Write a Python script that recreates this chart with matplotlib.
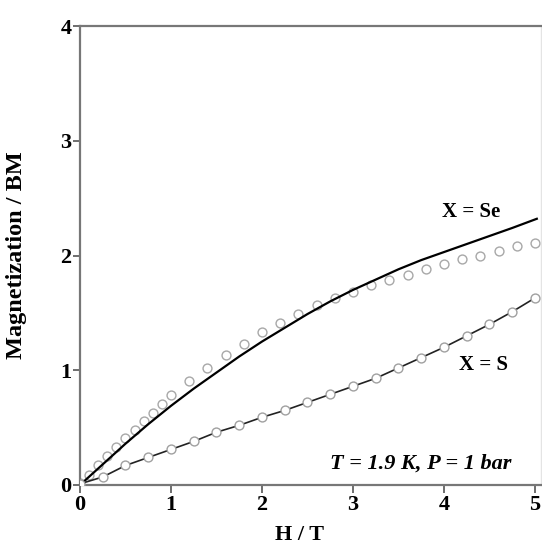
import numpy as np
import matplotlib.pyplot as plt
plt.rcParams["font.family"] = ["Liberation Serif", "DejaVu Serif"]
plt.rcParams["font.weight"] = "bold"

# X = Se : measured points
h_se = [0.0, 0.1, 0.2, 0.3, 0.4, 0.5, 0.6, 0.7, 0.8, 0.9, 1.0,
        1.2, 1.4, 1.6, 1.8, 2.0, 2.2, 2.4, 2.6, 2.8, 3.0,
        3.2, 3.4, 3.6, 3.8, 4.0, 4.2, 4.4, 4.6, 4.8, 5.0]
m_se = [0.02, 0.09, 0.17, 0.25, 0.33, 0.41, 0.48, 0.56, 0.63, 0.71, 0.78,
        0.91, 1.02, 1.13, 1.23, 1.33, 1.41, 1.49, 1.57, 1.63, 1.68,
        1.74, 1.79, 1.83, 1.88, 1.93, 1.97, 2.00, 2.04, 2.08, 2.11]

# X = Se : calculated curve
h_se_fit = [0.0, 0.25, 0.5, 0.75, 1.0, 1.25, 1.5, 1.75, 2.0, 2.25, 2.5,
            2.75, 3.0, 3.25, 3.5, 3.75, 4.0, 4.25, 4.5, 4.75, 5.02]
m_se_fit = [0.0, 0.18, 0.36, 0.53, 0.69, 0.84, 0.98, 1.12, 1.25, 1.37, 1.49,
            1.60, 1.70, 1.79, 1.88, 1.96, 2.03, 2.10, 2.17, 2.24, 2.32]

# X = S : measured points (fit runs through them)
h_s = [0.0, 0.25, 0.5, 0.75, 1.0, 1.25, 1.5, 1.75, 2.0, 2.25, 2.5,
       2.75, 3.0, 3.25, 3.5, 3.75, 4.0, 4.25, 4.5, 4.75, 5.0]
m_s = [0.01, 0.07, 0.17, 0.24, 0.31, 0.38, 0.46, 0.52, 0.59, 0.65, 0.72,
       0.79, 0.86, 0.93, 1.02, 1.11, 1.20, 1.30, 1.40, 1.51, 1.63]

fig = plt.figure(figsize=(5.42, 5.48), dpi=100)
ax = fig.add_axes([80/542, 63/548, 461/542, 459/548])

ax.plot(h_se_fit, m_se_fit, color="black", lw=1.6, zorder=3)
ax.plot(h_se, m_se, "o", ms=6.4, mfc="white", mec="#a8a8a8", mew=1.0, zorder=2)
ax.plot(h_s, m_s, color="#222222", lw=1.2, zorder=3)
ax.plot(h_s, m_s, "o", ms=6.4, mfc="white", mec="#a0a0a0", mew=1.0, zorder=4)

ax.set_xlim(0, 5.066)
ax.set_ylim(0, 4)
ax.set_xticks([0, 1, 2, 3, 4, 5])
ax.set_yticks([0, 1, 2, 3, 4])
ax.tick_params(direction="out", length=6, width=1.2, color="#555555",
               labelsize=16, pad=1)
ax.tick_params(axis="y", length=5, pad=1)

for s in ["left", "bottom", "top"]:
    ax.spines[s].set_color("#777777")
    ax.spines[s].set_linewidth(1.6)
ax.spines["right"].set_color("#e4e4e4")
ax.spines["right"].set_linewidth(1.0)

ax.set_ylabel("Magnetization / BM", fontsize=17.5, fontweight="bold")
ax.yaxis.set_label_coords(-0.115, 0.5)
ax.set_xlabel("H / T", fontsize=16, fontweight="bold")
ax.xaxis.set_label_coords(0.477, -0.088)

ax.text(4.3, 2.38, "X = Se", fontsize=15, fontweight="bold", ha="center", va="center")
ax.text(4.43, 1.05, "X = S", fontsize=15, fontweight="bold", ha="center", va="center")
ax.text(3.74, 0.19, "T = 1.9 K, P = 1 bar", fontsize=16, fontweight="bold",
        style="italic", ha="center", va="center")

plt.savefig("out.png", dpi=100)
